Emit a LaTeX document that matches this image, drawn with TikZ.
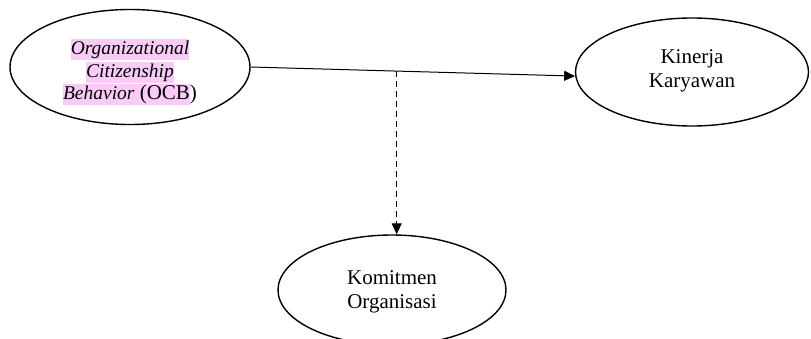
\documentclass[tikz,border=0pt]{standalone}
\usepackage{fontspec}
\setmainfont{Liberation Serif}
\usetikzlibrary{shapes.geometric,arrows.meta,calc}
\definecolor{hl}{HTML}{F8CCF6}
\newcommand{\hlbox}[1]{{\setlength{\fboxsep}{0pt}\colorbox{hl}{\rule[-5pt]{0pt}{20.5pt}#1}}}
\newcommand{\itx}[1]{{\fontsize{19.5}{23}\selectfont\itshape #1}}
\begin{document}
\begin{tikzpicture}[x=1pt,y=1pt,
  oval/.style={draw, ellipse, line width=1.4pt, inner sep=0pt},
  txt/.style={align=center, inner sep=0pt, font=\fontsize{21}{24}\selectfont},
  link/.style={line width=1pt, -{Triangle[length=11pt,width=10pt]}}]
\useasboundingbox (0,0) rectangle (811,338);
\node[oval, minimum width=240pt, minimum height=115pt] (ocb) at (130,271) {};
\node[txt, font=\fontsize{21}{22}\selectfont] (ocbt) at (130,266)
  {\hlbox{\itx{Organizational}}\\[1pt] \hlbox{\itx{Citizenship}}\\[0pt] \hlbox{\itx{Behavior} (OCB})};
\node[oval, minimum width=233pt, minimum height=108pt] (kin) at (692,266) {};
\node[txt] (kint) at (692,267) {Kinerja\\Karyawan};
\node[oval, minimum width=228pt, minimum height=110pt] (kom) at (392,48) {};
\node[txt] (komt) at (392,46) {Komitmen\\Organisasi};
\draw[link] (ocb.east) -- (kin.182);
\coordinate (m) at ($(ocb.east)!0.45!(kin.182)$);
\draw[link, dash pattern=on 6pt off 4pt] (m) -- (m |- kom.north);
\end{tikzpicture}
\end{document}
